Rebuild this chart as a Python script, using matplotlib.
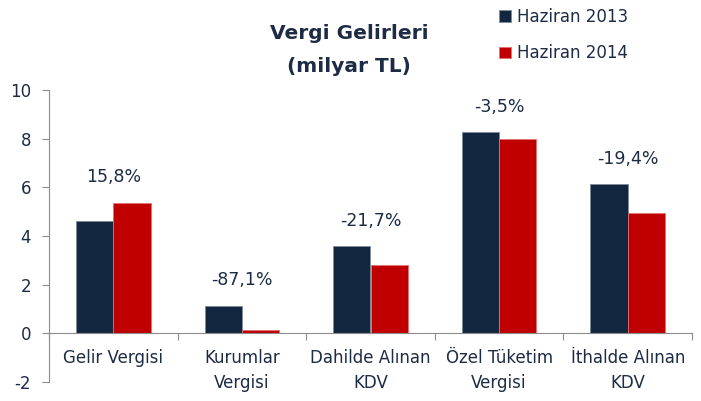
import matplotlib
matplotlib.use("Agg")
import matplotlib.pyplot as plt
import numpy as np

# data (milyar TL)
categories = ["Gelir Vergisi", "Kurumlar\nVergisi", "Dahilde Alınan\nKDV",
              "Özel Tüketim\nVergisi", "İthalde Alınan\nKDV"]
haziran_2013 = [4.63, 1.12, 3.58, 8.26, 6.13]
haziran_2014 = [5.36, 0.145, 2.80, 7.97, 4.94]
changes = ["15,8%", "-87,1%", "-21,7%", "-3,5%", "-19,4%"]

navy = "#13263f"
red = "#c00000"
text_col = "#1d2b45"
grey = "#8c8c8c"

plt.rcParams["font.family"] = ["DejaVu Sans"]
plt.rcParams["axes.unicode_minus"] = False

fig = plt.figure(figsize=(7.01, 4.01), dpi=100)
ax = fig.add_axes([49 / 701, 19 / 401, 643 / 701, 292 / 401])

x = np.arange(len(categories))
w = 0.29
b1 = ax.bar(x - w / 2, haziran_2013, w, color=navy, edgecolor="#7d8a99", linewidth=0.6,
            label="Haziran 2013")
b2 = ax.bar(x + w / 2, haziran_2014, w, color=red, edgecolor="#e07070", linewidth=0.6,
            label="Haziran 2014")

for i, lab in enumerate(changes):
    top = max(haziran_2013[i], haziran_2014[i])
    ax.annotate(lab, (x[i], top), xytext=(0, 12), textcoords="offset points",
                ha="center", va="bottom", fontsize=12.5, color=text_col)

ax.set_xlim(-0.5, len(categories) - 0.5)
ax.set_ylim(-2, 10)
ax.set_yticks(np.arange(-2, 11, 2))
ax.tick_params(axis="y", direction="out", length=5, color=grey, labelsize=12,
               labelcolor=text_col, pad=8)

ax.spines["top"].set_visible(False)
ax.spines["right"].set_visible(False)
ax.spines["left"].set_color(grey)
ax.spines["bottom"].set_color(grey)
ax.spines["bottom"].set_position(("data", 0))

# boundary ticks on the zero line, labels at the centres
ax.set_xticks(np.arange(-0.5, len(categories), 1.0))
ax.set_xticklabels([])
ax.tick_params(axis="x", which="major", direction="out", length=5, color=grey)
ax.set_xticks(x, minor=True)
ax.set_xticklabels(categories, minor=True, fontsize=12, color=text_col, linespacing=1.55)
ax.tick_params(axis="x", which="minor", length=0, pad=11)

fig.text(349 / 701, 1 - 50 / 401, "Vergi Gelirleri\n(milyar TL)", ha="center", va="center",
         fontsize=14.5, fontweight="bold", color=text_col, linespacing=1.95)

fig.legend(handles=[b1, b2], loc="upper left", bbox_to_anchor=(484 / 701, 1 + 7 / 401),
           frameon=False, fontsize=12, labelcolor=text_col, handlelength=0.7,
           handleheight=0.7, handletextpad=0.4, labelspacing=1.1)

fig.savefig("out.png", dpi=100)
